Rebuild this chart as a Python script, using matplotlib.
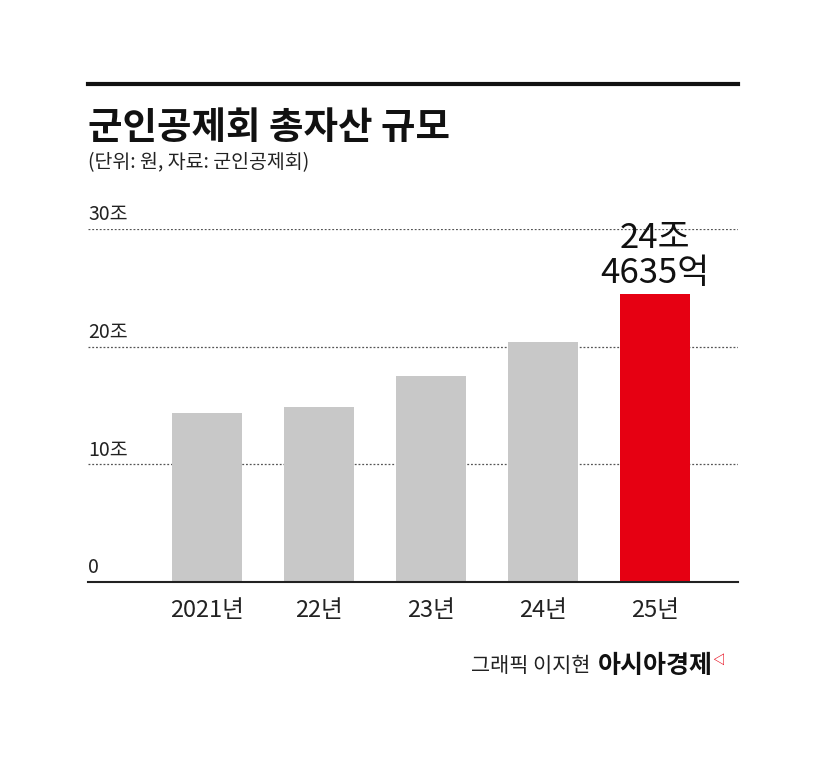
import matplotlib
matplotlib.use('Agg')
import matplotlib.pyplot as plt

plt.rcParams['font.family'] = ['Noto Sans CJK KR', 'DejaVu Sans']

years = ['2021년', '22년', '23년', '24년', '25년']
assets = [14.36, 14.87, 17.5, 20.4, 24.46]  # 조 원
yticks = [0, 10, 20, 30]
ytick_labels = ['0', '10조', '20조', '30조']
last_label = '24조\n4635억'

W, H = 827, 768
fig = plt.figure(figsize=(W / 100, H / 100), dpi=100)
ax = fig.add_axes([88 / W, 1 - 582 / H, 650 / W, (582 - 229) / H])

colors = ['#c8c8c8'] * (len(years) - 1) + ['#e60012']
x = list(range(len(years)))
ax.bar(x, assets, width=0.625, color=colors, zorder=2)
ax.set_xlim(-1.0625, 4.741)
ax.set_ylim(0, 30)

for t in yticks[1:]:
    ax.axhline(t, color='#555555', lw=0.9, ls=(0, (1.5, 1.5)), zorder=1)
for t, lab in zip(yticks, ytick_labels):
    ax.text(-1.0625, t + 0.3, lab, fontsize=14, color='#222222', ha='left', va='bottom')

ax.text(x[-1], assets[-1] + 0.3, last_label, fontsize=25, ha='center', va='bottom',
        linespacing=1.0, color='#111111')

for s in ['top', 'right', 'left']:
    ax.spines[s].set_visible(False)
ax.spines['bottom'].set_color('#222222')
ax.spines['bottom'].set_linewidth(1.5)
ax.set_yticks([])
ax.set_xticks(x)
ax.set_xticklabels(years, fontsize=17, color='#222222')
ax.tick_params(axis='x', length=0, pad=12)

fig.add_artist(plt.Line2D([88 / W, 738 / W], [1 - 84 / H, 1 - 84 / H], color='#111111', lw=3))
fig.text(88 / W, 1 - 128 / H, '군인공제회 총자산 규모', fontsize=27, fontweight='heavy',
         ha='left', va='center', color='#111111')
fig.text(88 / W, 1 - 163 / H, '(단위: 원, 자료: 군인공제회)', fontsize=14,
         ha='left', va='center', color='#222222')
fig.text(590 / W, 1 - 666 / H, '그래픽 이지현', fontsize=15, ha='right', va='center', color='#222222')
fig.text(598 / W, 1 - 666 / H, '아시아경제', fontsize=18, fontweight='heavy',
         ha='left', va='center', color='#111111')
fig.text(712 / W, 1 - 660 / H, '◁', fontsize=9, fontweight='bold', ha='left', va='center',
         color='#e60012')

fig.savefig('out.png', dpi=100)
